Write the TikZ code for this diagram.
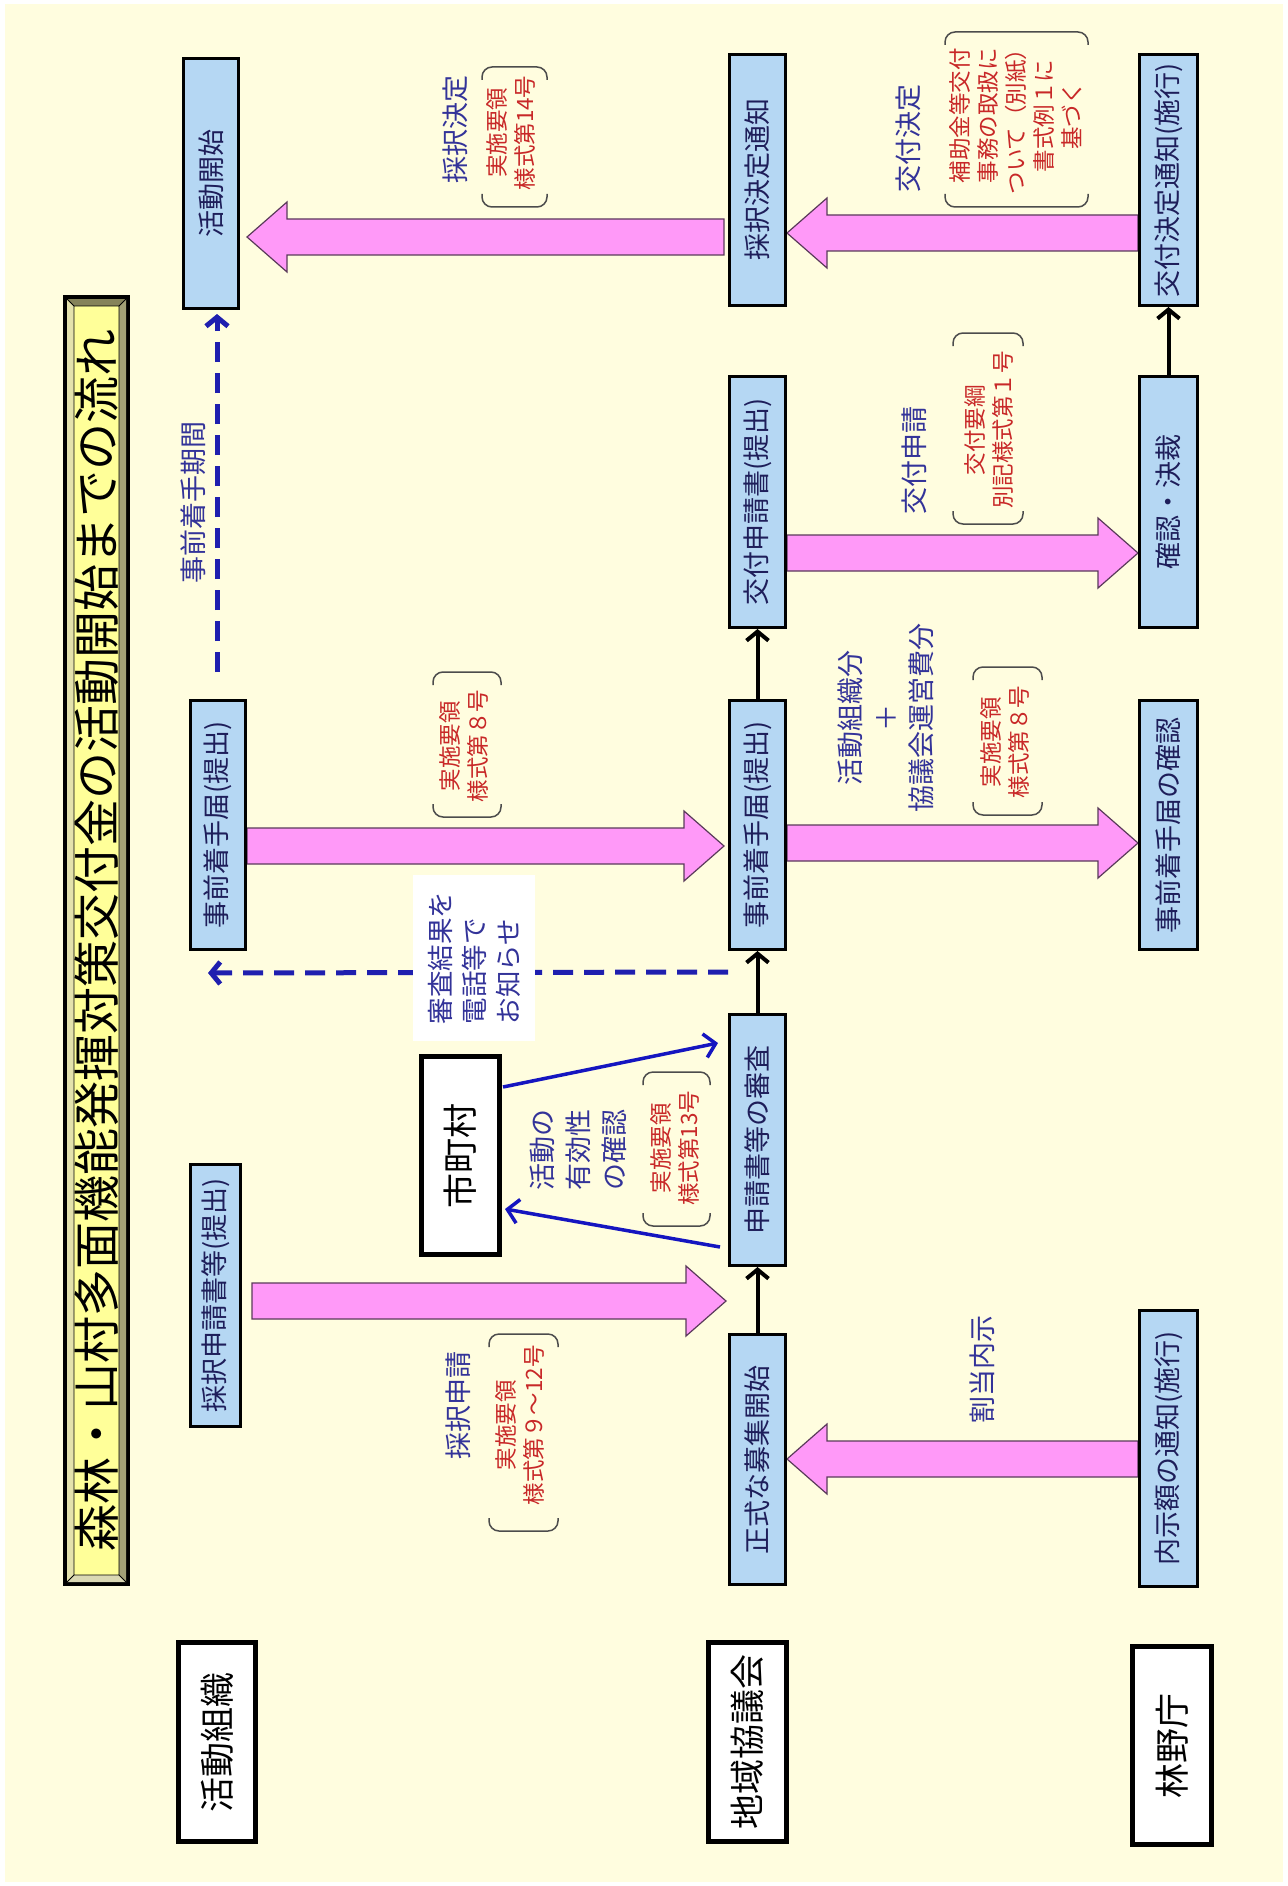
\documentclass[tikz,border=0pt]{standalone}
\usepackage{fontspec}
\setmainfont{Noto Sans CJK JP}
\usetikzlibrary{calc,arrows.meta}

\definecolor{paper}{HTML}{FFFDDF}
\definecolor{boxblue}{HTML}{B5D7F3}
\definecolor{boxtext}{HTML}{1E1E5A}
\definecolor{lblblue}{HTML}{333399}
\definecolor{lblred}{HTML}{C82828}
\definecolor{pinkfill}{HTML}{FF99F8}
\definecolor{pinkline}{HTML}{5A3A5A}
\definecolor{linkblue}{HTML}{1515C0}
\definecolor{dashblue}{HTML}{1F1FAF}
\definecolor{titleyellow}{HTML}{FFFF99}
\definecolor{bevdark}{HTML}{85835A}
\definecolor{bevmid}{HTML}{A3A176}
\definecolor{bevlight}{HTML}{E4E2AC}
\definecolor{bevpale}{HTML}{DAD8B4}

\pgfdeclarelayer{bg}
\pgfsetlayers{bg,main}

% wide block arrow from #1 to #2
\newcommand\blockarrow[2]{%
  \coordinate (ba-s) at (#1);
  \coordinate (ba-e) at (#2);
  \coordinate (ba-h) at ($(ba-e)!40pt!(ba-s)$);
  \draw[pinkarrow]
    ($(ba-s)!18pt!90:(ba-e)$) -- ($(ba-h)!18pt!90:(ba-e)$) --
    ($(ba-h)!35pt!90:(ba-e)$) -- (ba-e) --
    ($(ba-h)!35pt!-90:(ba-e)$) -- ($(ba-h)!18pt!-90:(ba-e)$) --
    ($(ba-s)!18pt!-90:(ba-e)$) -- cycle;}

% pair of curved brackets around a form reference
\newcommand\formbrackets[4]{%
  \draw[brk] (#1,#3+13) -- (#1,#3) -- (#2,#3) -- (#2,#3+13);
  \draw[brk] (#1,#4-13) -- (#1,#4) -- (#2,#4) -- (#2,#4-13);}

\begin{document}
\begin{tikzpicture}[x=1pt,y=-1pt,
  stagebox/.style={draw=black, line width=3pt, fill=boxblue, text=boxtext,
    rotate=90, inner sep=0pt, font=\fontsize{27}{30}\selectfont},
  rolebox/.style={draw=black, line width=5pt, fill=white, text=black,
    rotate=90, inner sep=0pt, font=\fontsize{35}{40}\selectfont},
  bluelbl/.style={text=lblblue, rotate=90, inner sep=0pt, align=center,
    font=\fontsize{27}{35}\selectfont},
  redlbl/.style={text=lblred, rotate=90, inner sep=0pt, align=center,
    font=\fontsize{22.5}{28}\selectfont},
  pinkarrow/.style={fill=pinkfill, draw=pinkline, line width=1.2pt, line join=miter},
  flow/.style={draw=black, line width=4pt, -{Straight Barb[length=9pt,width=22pt]}},
  checklink/.style={draw=linkblue, line width=3.5pt, -{Straight Barb[length=11pt,width=24pt]}},
  periodline/.style={draw=dashblue, line width=5pt, dash pattern=on 20pt off 11pt,
    -{Straight Barb[length=9pt,width=22pt]}},
  brk/.style={draw=black!70, line width=1.5pt, rounded corners=10pt},
]
\useasboundingbox (0,0) rectangle (1287,1886);

\begin{pgfonlayer}{bg}
  \fill[white] (0,0) rectangle (1287,1886);
  \fill[paper] (5,4) rectangle (1283,1882);
\end{pgfonlayer}

% title plate with bevelled frame
\fill[black] (63,295) rectangle (130,1586);
\fill[bevdark] (67,299) -- (126,299) -- (119,306) -- (74,306) -- cycle;
\fill[bevmid] (126,299) -- (126,1582) -- (119,1575) -- (119,306) -- cycle;
\fill[bevpale] (67,1582) -- (126,1582) -- (119,1575) -- (74,1575) -- cycle;
\fill[bevlight] (67,299) -- (74,306) -- (74,1575) -- (67,1582) -- cycle;
\fill[titleyellow] (74,306) rectangle (119,1575);
\draw[line width=0.8pt] (74,306) rectangle (119,1575)
  (67,299) -- (74,306) (126,299) -- (119,306) (67,1582) -- (74,1575) (126,1582) -- (119,1575);
\node[rotate=90, inner sep=0pt, font=\fontsize{47}{47}\selectfont] (title) at (97,940)
  {森林・山村多面機能発揮対策交付金の活動開始までの流れ};

% actors
\node[rolebox, minimum width=199, minimum height=77] (soshiki) at (217,1742) {活動組織};
\node[rolebox, minimum width=199, minimum height=78] (kyogikai) at (747.5,1742) {地域協議会};
\node[rolebox, minimum width=198, minimum height=79] (rinya) at (1172,1745.5) {林野庁};
\node[rolebox, minimum width=198, minimum height=78] (shichoson) at (460.5,1155.5) {市町村};

% steps of the activity organisation
\node[stagebox, minimum width=250, minimum height=55] (kaishi) at (211,183.5) {活動開始};
\node[stagebox, minimum width=249, minimum height=55] (jizenA) at (218,825) {事前着手届(提出)};
\node[stagebox, minimum width=262, minimum height=50] (saitakuA) at (215.5,1295.5) {採択申請書等(提出)};

% steps of the regional council
\node[stagebox, minimum width=251, minimum height=56] (tsuchi) at (757.5,180) {採択決定通知};
\node[stagebox, minimum width=251, minimum height=56] (shinseiB) at (757.5,502) {交付申請書(提出)};
\node[stagebox, minimum width=249, minimum height=56] (jizenB) at (757.5,825) {事前着手届(提出)};
\node[stagebox, minimum width=251, minimum height=56] (shinsa) at (757.5,1140) {申請書等の審査};
\node[stagebox, minimum width=250, minimum height=56] (boshu) at (757.5,1459.5) {正式な募集開始};

% steps of the forestry agency
\node[stagebox, minimum width=251, minimum height=58] (kettei) at (1168.5,180) {交付決定通知(施行)};
\node[stagebox, minimum width=251, minimum height=58] (kessai) at (1168.5,502) {確認・決裁};
\node[stagebox, minimum width=249, minimum height=58] (kakunin) at (1168.5,825) {事前着手届の確認};
\node[stagebox, minimum width=276, minimum height=58] (naiji) at (1168.5,1448.5) {内示額の通知(施行)};

% block arrows and dashed links below the boxes
\begin{pgfonlayer}{bg}
  \blockarrow{$(saitakuA.south |- 0,1301)+(10,0)$}{$(shinsa.north |- 0,1301)+(-2,0)$}
  \blockarrow{$(jizenA.south |- 0,846)+(0,0)$}{$(jizenB.north |- 0,846)+(-4,0)$}
  \blockarrow{jizenB.south |- 0,843}{kakunin.north |- 0,843}
  \blockarrow{shinseiB.south |- 0,553}{kessai.north |- 0,553}
  \blockarrow{naiji.north |- 0,1459}{boshu.south |- 0,1459}
  \blockarrow{kettei.north |- 0,233}{tsuchi.south |- 0,233}
  \blockarrow{$(tsuchi.north |- 0,237)+(-4,0)$}{$(kaishi.south |- 0,237)+(7,0)$}

  \coordinate (noticeend) at (208,973);
  \draw[periodline] (jizenB.north |- 0,972) -- (noticeend);
  \coordinate (periodstart) at (217,672);
  \draw[periodline] (periodstart) -- ($(kaishi.west -| periodstart)+(0,4)$);
\end{pgfonlayer}

% flow between steps
\draw[flow] (boshu.east) -- (shinsa.west);
\draw[flow] (shinsa.east) -- (jizenB.west);
\draw[flow] (jizenB.east) -- (shinseiB.west);
\draw[flow] (kessai.east) -- (kettei.west);

% check with the municipality
\draw[checklink] ($(shinsa.north |- 0,1247)+(-8,0)$) -- ($(shichoson.south |- 0,1209)+(3,0)$);
\draw[checklink] ($(shichoson.south |- 0,1087)+(1,0)$) -- ($(shinsa.north |- 0,1043)+(-10,0)$);

% arrow captions
\node[bluelbl] (lblkettei) at (455,130) {採択決定};
\node[bluelbl] (lblkofu) at (908,139) {交付決定};
\node[bluelbl] (lblshinsei) at (914,460) {交付申請};
\node[bluelbl] (lblkikan) at (193,502) {事前着手期間};
\node[bluelbl] (lblsaitaku) at (458,1405) {採択申請};
\node[bluelbl] (lblwariate) at (982,1369) {割当内示};
\node[bluelbl, font=\fontsize{27}{36}\selectfont] (lblyuko) at (578,1150) {活動の\\有効性\\の確認};
\node[bluelbl, align=left, fill=white, minimum width=166, minimum height=122,
  font=\fontsize{26.5}{34}\selectfont] (lblkekka) at (474,958) {審査結果を\\電話等で\\お知らせ};
\node[bluelbl, font=\fontsize{27}{35.5}\selectfont] (lblbun) at (886,718) {活動組織分\\＋\\協議会運営費分};

% form references
\node[redlbl] (frm14) at (510.5,133) {実施要領\\様式第14号};
\formbrackets{482}{547}{67}{207}
\node[redlbl] (frm8a) at (464,746) {実施要領\\様式第８号};
\formbrackets{433}{501}{672}{817}
\node[redlbl] (frm13) at (674.5,1148) {実施要領\\様式第13号};
\formbrackets{643}{710}{1072}{1226}
\node[redlbl] (frm9) at (520,1425) {実施要領\\様式第９～12号};
\formbrackets{489}{558}{1334}{1531}
\node[redlbl] (frm8b) at (1004.5,742) {実施要領\\様式第８号};
\formbrackets{973}{1042}{667}{815}
\node[redlbl] (frm1) at (989,430) {交付要綱\\別記様式第１号};
\formbrackets{953}{1023}{333}{524}
\node[redlbl] (frmrei) at (1015.5,116) {補助金等交付\\事務の取扱に\\ついて（別紙）\\書式例１に\\基づく};
\formbrackets{945}{1088}{32}{207}

\end{tikzpicture}
\end{document}
